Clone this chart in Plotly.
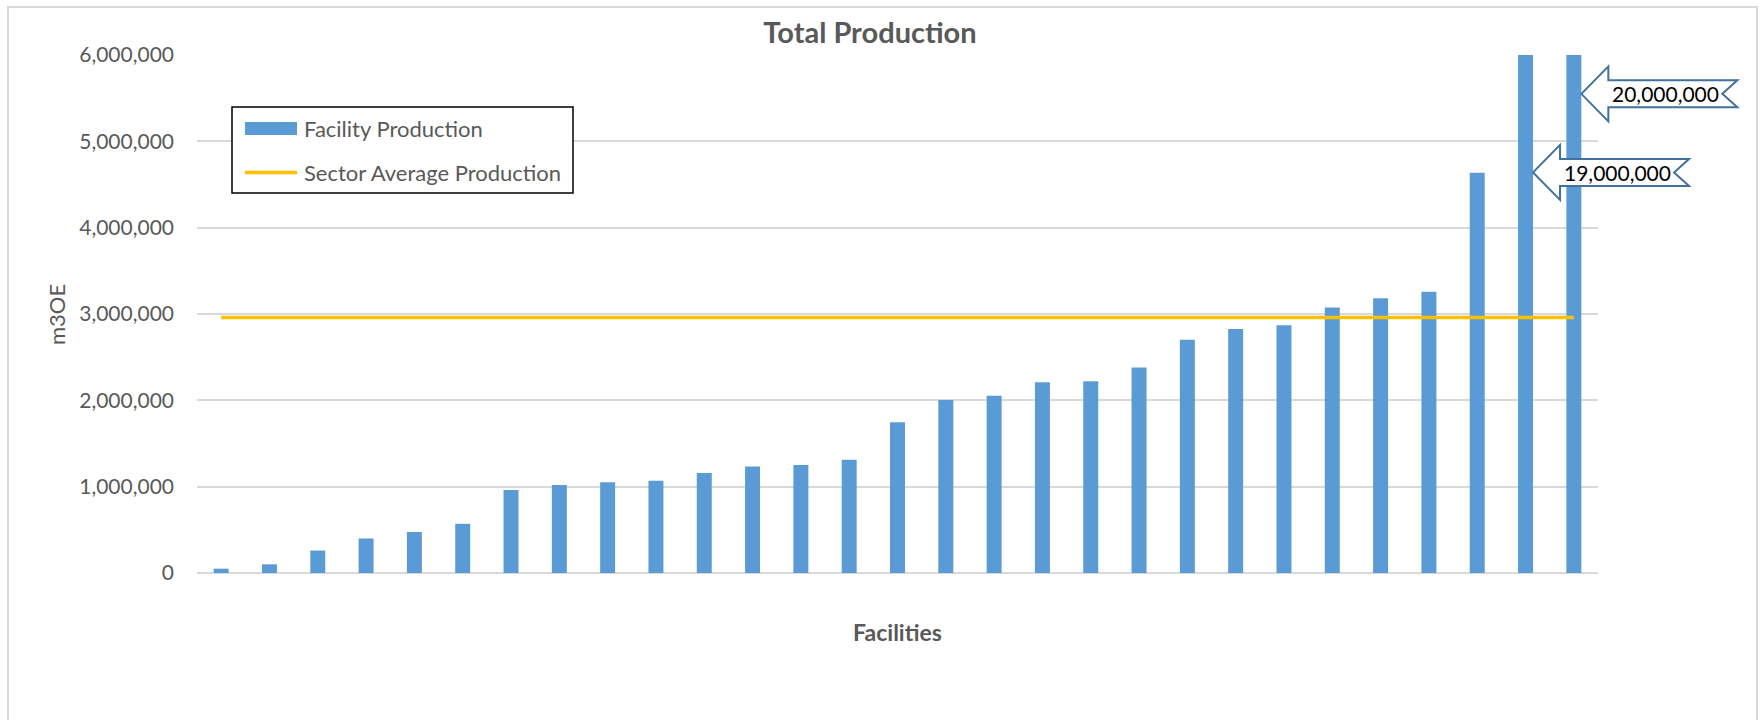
import plotly.graph_objects as go

# Facilities ranked by total production (m3OE)
facility_rank = list(range(1, 30))
facility_production = [
    50000, 100000, 260000, 400000, 475000, 570000, 960000, 1020000,
    1050000, 1068000, 1157000, 1234000, 1250000, 1311000, 1747000,
    2005000, 2052000, 2210000, 2221000, 2379000, 2703000, 2827000,
    2869000, 3074000, 3182000, 3259000, 4635000, 19000000, 20000000,
]
sector_average = 2960000
y_ticks = [0, 1000000, 2000000, 3000000, 4000000, 5000000, 6000000]

# Page geometry
W, H = 1763, 720
ML, MR, MT, MB = 197, 165, 55, 147
PW, PH = W - ML - MR, H - MT - MB
Y_MAX = 6000000

FONT = "Lato"
GREY = "#595959"
BAR = "#5B9BD5"
GOLD = "#FFC000"
GRID = "#D9D9D9"


def px_x(px):
    return (px - ML) / PW


def px_y(py):
    return (H - MB - py) / PH


n = len(facility_rank)
x_idx = list(range(n))

fig = go.Figure()
fig.add_trace(go.Bar(
    x=x_idx, y=facility_production, name="Facility Production",
    marker=dict(color=BAR, line=dict(width=0)),
    showlegend=False,
))
fig.add_trace(go.Scatter(
    x=[x_idx[0], x_idx[-1]], y=[sector_average, sector_average],
    mode="lines", name="Sector Average Production",
    line=dict(color=GOLD, width=3.5),
    showlegend=False,
))

shapes = []
annotations = []

# Outer chart frame
shapes.append(dict(
    type="rect", xref="paper", yref="paper",
    x0=px_x(8), x1=px_x(1757), y0=px_y(730), y1=px_y(7),
    line=dict(color=GRID, width=2), fillcolor="rgba(0,0,0,0)", layer="below",
))

# Legend box
shapes.append(dict(
    type="rect", xref="paper", yref="paper",
    x0=px_x(232), x1=px_x(573), y0=px_y(193), y1=px_y(107),
    line=dict(color="black", width=1.5), fillcolor="white", layer="above",
))
shapes.append(dict(
    type="rect", xref="paper", yref="paper",
    x0=px_x(245), x1=px_x(297), y0=px_y(135), y1=px_y(122),
    line=dict(width=0), fillcolor=BAR, layer="above",
))
shapes.append(dict(
    type="line", xref="paper", yref="paper",
    x0=px_x(245), x1=px_x(297), y0=px_y(172.5), y1=px_y(172.5),
    line=dict(color=GOLD, width=3.5), layer="above",
))
for label, py in [("Facility Production", 128.5), ("Sector Average Production", 172.5)]:
    annotations.append(dict(
        xref="paper", yref="paper", x=px_x(302), y=px_y(py),
        xanchor="left", yanchor="middle", showarrow=False,
        text=label, font=dict(family=FONT, size=22, color=GREY),
    ))

# Y axis title
annotations.append(dict(
    xref="paper", yref="paper", x=px_x(56), y=px_y(315),
    xanchor="center", yanchor="middle", showarrow=False, textangle=-90,
    text="m3OE", font=dict(family=FONT, size=22, color=GREY),
))

# Left-arrow callouts for the two off-scale facilities
half_bar = 7.5
callout_path = (
    "M{t},0 L{h},27.5 L{h},13.5 L{r},13.5 L{n},0 L{r},-13.5 "
    "L{h},-13.5 L{h},-27.5 Z"
).format(t=half_bar, h=half_bar + 27, r=half_bar + 156, n=half_bar + 141)
for idx, level in [(n - 1, 5550000), (n - 2, 4640000)]:
    ax = (idx + 0.5) / n
    ay = level / Y_MAX
    shapes.append(dict(
        type="path", xref="paper", yref="paper",
        xsizemode="pixel", ysizemode="pixel", xanchor=ax, yanchor=ay,
        path=callout_path, fillcolor="white",
        line=dict(color="#41719C", width=2), layer="above",
    ))
    annotations.append(dict(
        xref="paper", yref="paper", x=ax, y=ay, xshift=half_bar + 84,
        xanchor="center", yanchor="middle", showarrow=False,
        text=f"{facility_production[idx]:,}",
        font=dict(family=FONT, size=21, color="black"),
    ))

fig.update_layout(
    width=W, height=H,
    margin=dict(l=ML, r=MR, t=MT, b=MB, pad=0),
    paper_bgcolor="white", plot_bgcolor="white",
    bargap=0.69,
    showlegend=False,
    title=dict(
        text="<b>Total Production</b>", x=870 / W, xanchor="center",
        xref="container", yref="container", y=1 - 33 / H, yanchor="middle",
        font=dict(family=FONT, size=29, color=GREY),
    ),
    xaxis=dict(
        range=[-0.5, n - 0.5], showticklabels=False, showgrid=False,
        zeroline=False, showline=False, ticks="",
        title=dict(text="<b>Facilities</b>", standoff=51,
                   font=dict(family=FONT, size=23, color=GREY)),
    ),
    yaxis=dict(
        range=[0, Y_MAX], tickvals=y_ticks, tickformat=",d",
        showgrid=True, gridcolor=GRID, gridwidth=2,
        zeroline=True, zerolinecolor=GRID, zerolinewidth=2,
        showline=False, ticks="", ticklabelstandoff=22,
        tickfont=dict(family=FONT, size=21, color=GREY),
    ),
    shapes=shapes,
    annotations=annotations,
)

fig.write_html("out.html")
